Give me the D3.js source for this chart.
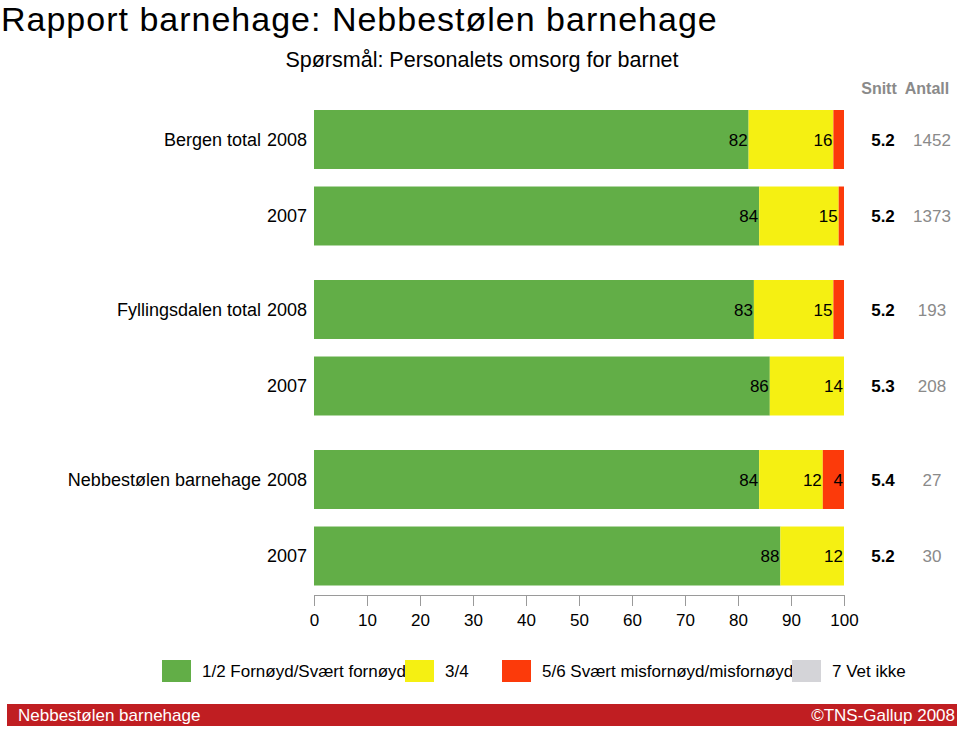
<!DOCTYPE html>
<html>
<head>
<meta charset="utf-8">
<script src="https://cdn.jsdelivr.net/npm/d3@7"></script>
<style>
  html, body { margin: 0; padding: 0; background: #fff; }
  svg { display: block; font-family: "Liberation Sans", Arial, Helvetica, sans-serif; }
</style>
</head>
<body>
<svg id="chart" width="960" height="731"></svg>
<script>
// ---- Data ----
const title = "Rapport barnehage: Nebbestølen barnehage";
const subtitle = "Spørsmål: Personalets omsorg for barnet";
const groups = ["Bergen total", "Fyllingsdalen total", "Nebbestølen barnehage"];
const years = ["2008", "2007"];
const satisfied    = [82, 84, 83, 86, 84, 88];   // 1/2
const neutral      = [16, 15, 15, 14, 12, 12];   // 3/4
const dissatisfied = [2, 1, 2, 0, 4, 0];         // 5/6
const dontKnow     = [0, 0, 0, 0, 0, 0];         // 7
const snitt  = ["5.2", "5.2", "5.2", "5.3", "5.4", "5.2"];
const antall = ["1452", "1373", "193", "208", "27", "30"];
const seriesNames = ["1/2 Fornøyd/Svært fornøyd", "3/4", "5/6 Svært misfornøyd/misfornøyd", "7 Vet ikke"];
const seriesColors = ["#62ae47", "#f5f012", "#fc3a0a", "#d4d4d8"];
const xTicks = [0, 10, 20, 30, 40, 50, 60, 70, 80, 90, 100];
const footerLeft = "Nebbestølen barnehage";
const footerRight = "©TNS-Gallup 2008";

// ---- Build rows ----
const seriesValues = [satisfied, neutral, dissatisfied, dontKnow];
const rows = [];
groups.forEach((g, gi) => {
  years.forEach((y, yi) => {
    const i = gi * years.length + yi;
    rows.push({ group: g, year: y, first: yi === 0, idx: i,
      values: seriesValues.map(s => s[i]), snitt: snitt[i], antall: antall[i] });
  });
});

const svg = d3.select("#chart");
const FONT = 17;
const CAT_FONT = 18;

// Scales
const x = d3.scaleLinear().domain([0, 100]).range([314, 844]);
const yGroup = d3.scaleBand().domain(groups).range([110, 585.5]).paddingInner(0.203).paddingOuter(0);
const yYear = d3.scaleBand().domain(years).range([0, yGroup.bandwidth()]).paddingInner(0.229).paddingOuter(0);
const rowY = r => yGroup(r.group) + yYear(r.year);
const bh = yYear.bandwidth();

// Title
svg.append("text").attr("x", 1).attr("y", 31).attr("font-size", 34).attr("letter-spacing", 1)
  .attr("fill", "#000").text(title);
svg.append("text").attr("x", 482).attr("y", 67).attr("text-anchor", "middle").attr("font-size", 21.5).attr("fill", "#000").text(subtitle);

// Column headers
svg.append("text").attr("x", 879).attr("y", 94).attr("text-anchor", "middle").attr("font-size", 16)
  .attr("font-weight", "bold").attr("fill", "#8a8a8a").text("Snitt");
svg.append("text").attr("x", 927).attr("y", 94).attr("text-anchor", "middle").attr("font-size", 16)
  .attr("font-weight", "bold").attr("fill", "#8a8a8a").text("Antall");

// Bars
const rowG = svg.selectAll("g.row").data(rows).enter().append("g").attr("class", "row");

rowG.each(function(r) {
  const g = d3.select(this);
  const y0 = rowY(r);
  let cum = 0;
  const segs = r.values.map((v, si) => {
    const s = { start: cum, end: cum + v, v, si };
    cum += v;
    return s;
  });
  g.selectAll("rect").data(segs.filter(s => s.v > 0)).enter().append("rect")
    .attr("x", s => x(s.start))
    .attr("y", y0)
    .attr("width", s => x(s.end) - x(s.start))
    .attr("height", bh)
    .attr("fill", s => seriesColors[s.si]);
  g.selectAll("text.val").data(segs.filter(s => s.v >= 3)).enter().append("text")
    .attr("class", "val")
    .attr("x", s => x(s.end) - 1)
    .attr("y", y0 + bh / 2)
    .attr("dy", "0.36em")
    .attr("text-anchor", "end")
    .attr("font-size", FONT)
    .attr("fill", "#000")
    .text(s => s.v);

  // Category labels
  g.append("text").attr("x", 307).attr("y", y0 + bh / 2).attr("dy", "0.36em")
    .attr("text-anchor", "end").attr("font-size", CAT_FONT).attr("fill", "#000").text(r.year);
  if (r.first) {
    g.append("text").attr("x", 261).attr("y", y0 + bh / 2).attr("dy", "0.36em")
      .attr("text-anchor", "end").attr("font-size", CAT_FONT).attr("fill", "#000").text(r.group);
  }
  // Snitt / Antall
  g.append("text").attr("x", 883).attr("y", y0 + bh / 2).attr("dy", "0.36em")
    .attr("text-anchor", "middle").attr("font-size", FONT).attr("font-weight", "bold").attr("fill", "#000").text(r.snitt);
  g.append("text").attr("x", 932).attr("y", y0 + bh / 2).attr("dy", "0.36em")
    .attr("text-anchor", "middle").attr("font-size", FONT).attr("fill", "#8a8a8a").text(r.antall);
});

// Axis
const axis = d3.axisBottom(x).tickValues(xTicks).tickSize(11).tickSizeOuter(0).tickPadding(8);
const ax = svg.append("g").attr("transform", "translate(0,595)").call(axis);
ax.select(".domain").attr("stroke", "#9a9a9a");
ax.selectAll(".tick line").attr("stroke", "#9a9a9a");
ax.selectAll(".tick text").attr("font-size", FONT).attr("fill", "#000")
  .attr("font-family", "'Liberation Sans', Arial, Helvetica, sans-serif");

// Legend
const legendX = [162, 405, 502, 792];
const lg = svg.selectAll("g.legend").data(seriesNames).enter().append("g").attr("class", "legend")
  .attr("transform", (d, i) => `translate(${legendX[i]},660)`);
lg.append("rect").attr("width", 29).attr("height", 22).attr("fill", (d, i) => seriesColors[i]);
lg.append("text").attr("x", 40).attr("y", 11).attr("dy", "0.36em").attr("font-size", FONT).attr("fill", "#000").text(d => d);

// Footer
svg.append("rect").attr("x", 7).attr("y", 704).attr("width", 950).attr("height", 22).attr("fill", "#c01e22");
svg.append("text").attr("x", 18).attr("y", 715).attr("dy", "0.36em").attr("font-size", FONT).attr("fill", "#fff").text(footerLeft);
svg.append("text").attr("x", 955).attr("y", 715).attr("dy", "0.36em").attr("text-anchor", "end").attr("font-size", FONT).attr("fill", "#fff").text(footerRight);
</script>
</body>
</html>
